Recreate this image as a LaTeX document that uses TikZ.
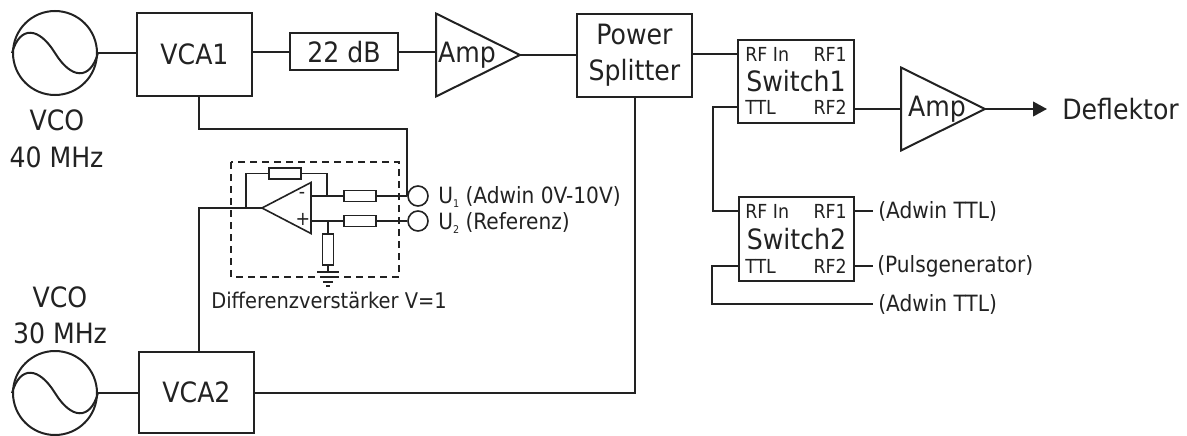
\documentclass[tikz,border=0pt]{standalone}
\usepackage{fontspec}
\setmainfont{DejaVu Sans Condensed}
\usepackage{xcolor}
\usepackage{tikz}
\usetikzlibrary{shapes.geometric,arrows.meta}
\definecolor{ink}{HTML}{222222}
\def\px{0.75pt}
\tikzset{
  wire/.style={draw=ink, line width=1.5pt},
  thinwire/.style={draw=ink, line width=1.2pt},
  block/.style={draw=ink, line width=1.5pt, inner sep=0pt, text=ink, font=\fontsize{21}{27}\selectfont, align=center},
  src/.style={circle, draw=ink, line width=1.5pt, inner sep=0pt, minimum size=84*\px},
  amptri/.style={isosceles triangle, isosceles triangle stretches, draw=ink, line width=1.5pt, inner sep=0pt, outer sep=0pt, minimum width=83*\px, minimum height=84*\px, anchor=apex},
  lab/.style={text=ink, font=\fontsize{21}{25}\selectfont, inner sep=0pt},
  note/.style={text=ink, font=\fontsize{16.8}{20}\selectfont, inner sep=0pt},
  port/.style={text=ink, font=\fontsize{14.5}{17}\selectfont, inner sep=0pt},
  res/.style={draw=ink, line width=1.2pt, inner sep=0pt, minimum width=32*\px, minimum height=11*\px},
  term/.style={circle, draw=ink, line width=1.2pt, inner sep=0pt, minimum size=20*\px},
}
\newcommand{\sinewave}[1]{
  \draw[wire] (#1.west) .. controls +(8,-28) and +(-16,-26) .. (#1.center) .. controls +(16,26) and +(-8,28) .. (#1.east);
}
\newcommand{\lowidx}[1]{\raisebox{-3pt}{\fontsize{8}{8}\selectfont #1}}

\begin{document}
\begin{tikzpicture}[x=\px, y=-\px]
  \useasboundingbox (0,0) rectangle (1187,435);

  % sources and top row
  \node[src] (vco1) at (55,53) {};
  \sinewave{vco1}
  \node[lab] (vco1a) at (57,120) {VCO};
  \node[lab] (vco1b) at (56.5,157) {40 MHz};
  \node[block, minimum width=115*\px, minimum height=83*\px] (vca1) at (194.5,54.5) {VCA1};
  \node[block, minimum width=108*\px, minimum height=37*\px] (att) at (344,52) {22 dB};
  \node[amptri] (amp1) at (520,55) {};
  \node[lab] (amp1t) at (467,55) {Amp};
  \node[block, minimum width=115*\px, minimum height=83*\px] (split) at (634.5,55.5) {Power\\Splitter};

  % switches
  \node[block, minimum width=116*\px, minimum height=83*\px] (sw1) at (796,81.5) {Switch1};
  \node[port, anchor=west] (sw1in) at (745,54) {RF In};
  \node[port, anchor=east] (sw1a) at (847,54) {RF1};
  \node[port, anchor=west] (sw1ttl) at (745,107) {TTL};
  \node[port, anchor=east] (sw1b) at (847,107) {RF2};
  \node[block, minimum width=115*\px, minimum height=84*\px] (sw2) at (796.5,239) {Switch2};
  \node[port, anchor=west] (sw2in) at (745,211) {RF In};
  \node[port, anchor=east] (sw2a) at (847,211) {RF1};
  \node[port, anchor=west] (sw2ttl) at (745,266) {TTL};
  \node[port, anchor=east] (sw2b) at (847,266) {RF2};
  \node[amptri] (amp2) at (985,109) {};
  \node[lab] (amp2t) at (937,109) {Amp};
  \node[lab, anchor=west] (defl) at (1062,109) {Deflektor};
  \node[note, anchor=west] (adw1) at (878,211) {(Adwin TTL)};
  \node[note, anchor=west] (puls) at (877,266) {(Pulsgenerator)};
  \node[note, anchor=west] (adw2) at (878,304) {(Adwin TTL)};

  % bottom row
  \node[src] (vco2) at (55,393) {};
  \sinewave{vco2}
  \node[lab] (vco2a) at (60,297) {VCO};
  \node[lab] (vco2b) at (60,333) {30 MHz};
  \node[block, minimum width=115*\px, minimum height=81*\px] (vca2) at (196.5,392.5) {VCA2};

  % differential amplifier
  \node[amptri, shape border rotate=180, line width=1.2pt, minimum width=51*\px, minimum height=49*\px] (opamp) at (262,208) {};
  \node[res] (rfb) at (285,173.5) {};
  \node[res] (rin1) at (360,196) {};
  \node[res] (rin2) at (360,221) {};
  \node[res, minimum width=11*\px, minimum height=31*\px] (rgnd) at (328,249.5) {};
  \node[term] (u1) at (418,196) {};
  \node[term] (u2) at (418,221) {};
  \node[note, anchor=west] (u1t) at (438,197) {U\lowidx{1} (Adwin 0V-10V)};
  \node[note, anchor=west] (u2t) at (438,223) {U\lowidx{2} (Referenz)};
  \node[note, font=\fontsize{16.2}{20}\selectfont] (difft) at (329,300) {Differenzverstärker V=1};
  \node[port] (minus) at (302,195) {-};
  \node[port] (plus) at (303,219) {+};
  \draw[thinwire, dashed, dash pattern=on 5pt off 4pt] (231,162) rectangle (399,277);

  \coordinate (fbl) at (246,208);
  \coordinate (fbr) at (327,196);
  \coordinate (jn) at (328,221);
  \coordinate (tap1) at (199,129);
  \coordinate (tap2) at (199,208);
  \coordinate (gnd) at (328,272);

  \draw[thinwire] (opamp.apex) -- (fbl) |- (rfb.west);
  \draw[thinwire] (rfb.east) -| (fbr);
  \draw[thinwire] (opamp.lower side |- rin1) -- (rin1.west);
  \draw[thinwire] (rin1.east) -- (u1.west);
  \draw[thinwire] (opamp.lower side |- rin2) -- (rin2.west);
  \draw[thinwire] (rin2.east) -- (u2.west);
  \draw[thinwire] (jn) -- (rgnd.north);
  \draw[thinwire] (rgnd.south) -- (gnd);
  \foreach \y/\w in {272/11,277/8,282/5,286/2}
    \draw[thinwire] (328-\w,\y) -- (328+\w,\y);

  % connections
  \draw[wire] (vco1.east) -- (vco1.east -| vca1.west);
  \draw[wire] (vca1.east |- att.west) -- (att.west);
  \draw[wire] (att.east) -- (amp1.lower side |- att.east);
  \draw[wire] (amp1.apex) -- (split.west |- amp1.apex);
  \draw[wire] (split.east |- sw1in) -- (sw1.west |- sw1in);
  \draw[wire] (sw1.east |- amp2.apex) -- (amp2.lower side);
  \draw[wire, -{Triangle[length=10.5pt,width=11pt]}] (amp2.apex) -- (1047,109);
  \draw[wire] (sw1.west |- sw1ttl) -- (713,107) -- (713,211) -- (sw2.west |- sw2in);
  \draw[wire] (sw2.west |- sw2ttl) -- (712,266) -- (712,304) -- (873,304);
  \draw[wire] (sw2.east |- adw1) -- (873,211);
  \draw[wire] (sw2.east |- puls) -- (873,266);
  \draw[wire] (vco2.east) -- (vco2.east -| vca2.west);
  \draw[wire] (vca1.south -| tap1) -- (tap1) -| (u1.west);
  \draw[wire] (vca2.north -| tap2) -- (tap2) -- (fbl);
  \draw[wire] (vca2.east) -| (split.south);
\end{tikzpicture}
\end{document}
